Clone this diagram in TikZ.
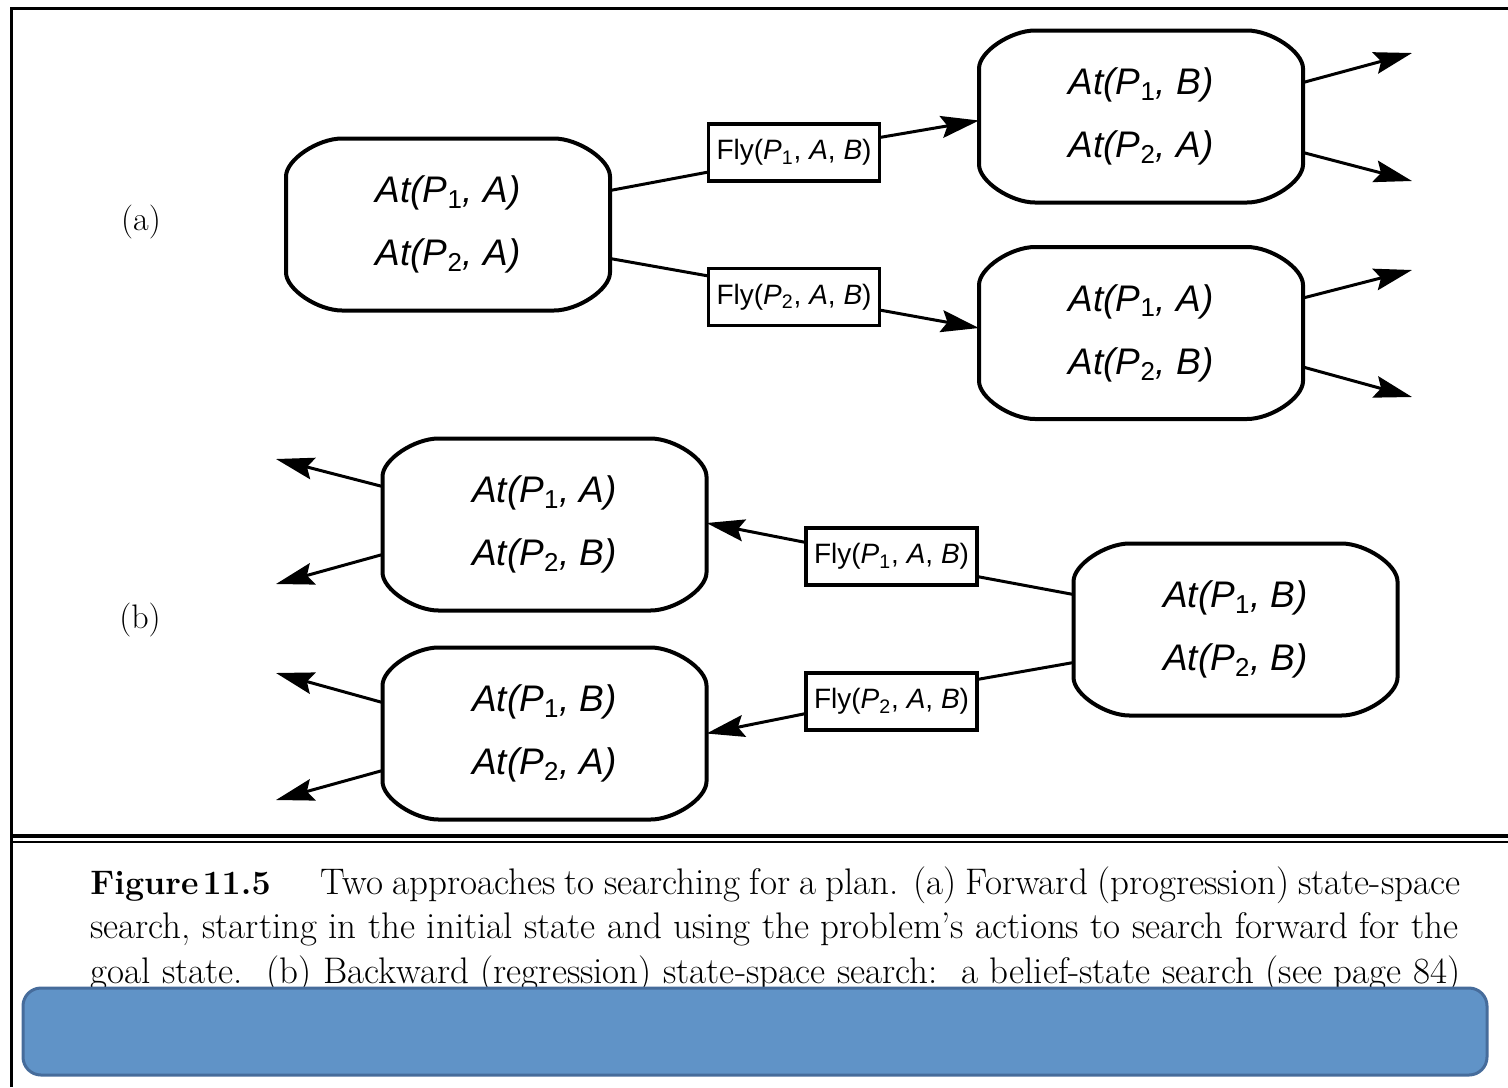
\documentclass[tikz,border=0pt]{standalone}
\usepackage{fontspec}
\newfontfamily\hv{Liberation Sans}
\usetikzlibrary{arrows.meta,calc}

\definecolor{bandfill}{RGB}{96,147,199}
\definecolor{bandedge}{RGB}{70,108,155}

% state literal: At(P_i, X)
\newcommand\atfact[2]{{\itshape At(P}\textsubscript{#1}{\itshape , #2)}}
% action label: Fly(P_i, A, B)
\newcommand\flyact[1]{Fly(\textit{P}\textsubscript{#1}, \textit{A}, \textit{B})}

% outline of a state box: straight sides joined by chamfer-like soft corners
\newcommand\rimpath[1]{%
  \draw[rim] ($(#1.north west)+(56,0)$) -- ($(#1.north east)+(-56,0)$)
    .. controls ($(#1.north east)+(-32,0)$) and ($(#1.north east)+(0,21)$) .. ($(#1.north east)+(0,38)$)
    -- ($(#1.south east)+(0,-38)$)
    .. controls ($(#1.south east)+(0,-21)$) and ($(#1.south east)+(-32,0)$) .. ($(#1.south east)+(-56,0)$)
    -- ($(#1.south west)+(56,0)$)
    .. controls ($(#1.south west)+(32,0)$) and ($(#1.south west)+(0,-21)$) .. ($(#1.south west)+(0,-38)$)
    -- ($(#1.north west)+(0,38)$)
    .. controls ($(#1.north west)+(0,21)$) and ($(#1.north west)+(32,0)$) .. cycle;
}

\tikzset{
  state/.style={font=\hv\fontsize{18.5pt}{31.5pt}\selectfont, align=center,
    minimum width=162pt, minimum height=86pt, inner sep=0pt, outer sep=0pt},
  action/.style={draw, line width=1.6pt, font=\hv\fontsize{14pt}{16pt}\selectfont,
    minimum width=85.5pt, minimum height=28.5pt, inner sep=0pt, outer sep=0pt, fill=white},
  link/.style={line width=1.5pt},
  flow/.style={link, -{Stealth[length=19pt,width=11pt,inset=3pt]}},
  rim/.style={line width=2pt, line join=round},
  tag/.style={font=\fontsize{17pt}{19pt}\selectfont},
  capline/.style={anchor=base west, inner sep=0pt, font=\fontsize{18.5pt}{22pt}\selectfont},
  band/.style={draw=bandedge, fill=bandfill, line width=1.5pt, rounded corners=9pt,
    minimum width=732pt, minimum height=43.5pt, inner sep=0pt},
}

\begin{document}
\begin{tikzpicture}[x=0.5pt, y=-0.5pt]
\useasboundingbox (0,0) rectangle (1508,1087);

% frame and caption rule
\draw[line width=1.5pt] (11.5,1087) -- (11.5,8.5) -- (1508,8.5);
\draw[line width=2pt] (11.5,836) -- (1508,836);
\draw[line width=1pt] (11.5,842) -- (1508,842);

% ---------- (a) forward search ----------
\node[tag] (la) at (141,222) {(a)};

\node[state] (S0) at (448,224.5) {\atfact{1}{A}\\\atfact{2}{A}};
\node[state] (S1) at (1141,116.5) {\atfact{1}{B}\\\atfact{2}{A}};
\node[state] (S2) at (1141,333) {\atfact{1}{A}\\\atfact{2}{B}};
\rimpath{S0}
\rimpath{S1}
\rimpath{S2}

\node[action] (F1a) at (794,152.5) {\flyact{1}};
\node[action] (F2a) at (794,297) {\flyact{2}};

\draw[link] ($(S0.east)+(0,-34)$) -- ($(F1a.west)+(0,19.5)$);
\draw[flow] ($(F1a.east)+(0,-15)$) -- ($(S1.west)+(0,4)$);
\draw[link] ($(S0.east)+(0,34)$) -- ($(F2a.west)+(0,-21)$);
\draw[flow] ($(F2a.east)+(0,13)$) -- ($(S2.west)+(0,-5)$);

\coordinate (o1) at (1412,53);
\coordinate (o2) at (1412,181);
\coordinate (o3) at (1412,270);
\coordinate (o4) at (1412,397);
\draw[flow] ($(S1.east)+(0,-34)$) -- (o1);
\draw[flow] ($(S1.east)+(0,36)$) -- (o2);
\draw[flow] ($(S2.east)+(0,-35)$) -- (o3);
\draw[flow] ($(S2.east)+(0,34)$) -- (o4);

% ---------- (b) backward search ----------
\node[tag] (lb) at (140,620) {(b)};

\node[state] (S3) at (544.5,524.5) {\atfact{1}{A}\\\atfact{2}{B}};
\node[state] (S4) at (544.5,733.5) {\atfact{1}{B}\\\atfact{2}{A}};
\node[state] (S5) at (1235.5,629.5) {\atfact{1}{B}\\\atfact{2}{B}};
\rimpath{S3}
\rimpath{S4}
\rimpath{S5}

\node[action] (F1b) at (891.5,556.5) {\flyact{1}};
\node[action] (F2b) at (891.5,701.5) {\flyact{2}};

\draw[link] ($(S5.west)+(0,-35)$) -- ($(F1b.east)+(0,20)$);
\draw[flow] ($(F1b.west)+(0,-14)$) -- ($(S3.east)+(0,-1.5)$);
\draw[link] ($(S5.west)+(0,33)$) -- ($(F2b.east)+(0,-22)$);
\draw[flow] ($(F2b.west)+(0,12)$) -- (S4.east);

\coordinate (o5) at (276,459);
\coordinate (o6) at (276,584);
\coordinate (o7) at (276,673);
\coordinate (o8) at (276,800);
\draw[flow] ($(S3.west)+(0,-38)$) -- (o5);
\draw[flow] ($(S3.west)+(0,30)$) -- (o6);
\draw[flow] ($(S4.west)+(0,-31)$) -- (o7);
\draw[flow] ($(S4.west)+(0,37)$) -- (o8);

% ---------- caption ----------
\node[capline, font=\fontsize{17pt}{22pt}\selectfont] (fig) at (90,894) {\bfseries Figure\hspace{0.12em}11.5};
\node[capline] (cap1) at (320,894) {\makebox[570pt][s]{Two approaches to searching for a plan. (a) Forward (progression) state-space}};
\node[capline] (cap2) at (90,938) {\makebox[684pt][s]{search, starting in the initial state and using the problem’s actions to search forward for the}};
\node[capline] (cap3) at (90,983) {\makebox[685pt][s]{goal state.\ \ (b) Backward (regression) state-space search:\ \ a belief-state search (see page 84)}};

\node[band] (band) at (755,1031.5) {};
\end{tikzpicture}
\end{document}
